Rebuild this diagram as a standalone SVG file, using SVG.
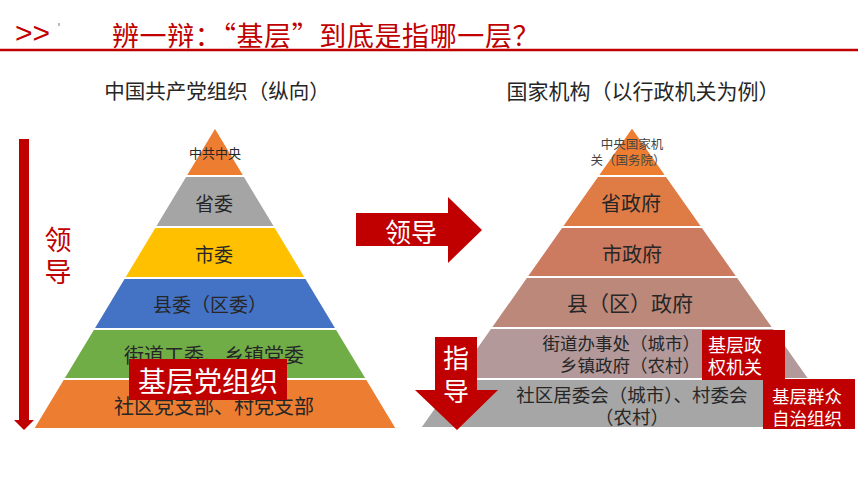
<svg xmlns="http://www.w3.org/2000/svg" width="860" height="484" viewBox="0 0 860 484">
<style>
text{font-family:"Noto Sans CJK SC","Noto Sans",sans-serif;dominant-baseline:central;text-anchor:middle}
.t{fill:#262626}
.w{fill:#ffffff}
.r{fill:#C00000}
.lay{stroke:#ffffff;stroke-width:2}
.box{fill:#C00000}
</style>
<rect width="860" height="484" fill="#ffffff"/>
<g id="header">
<text x="15" y="32" class="r" style="text-anchor:start;font-size:30px;font-family:'Liberation Sans',sans-serif">&gt;&gt;</text>
<rect x="58.5" y="23" width="1" height="3" fill="#777"/>
<text x="112" y="34" class="r" style="text-anchor:start;font-size:27px;letter-spacing:0.6px">辨一辩：“基层”到底是指哪一层？</text>
<line x1="0" y1="50" x2="858" y2="50" stroke="#C00000" stroke-width="2.5"/>
</g>
<g id="subtitles">
<text x="217" y="90" class="t" style="font-size:20.5px">中国共产党组织（纵向）</text>
<text x="643" y="90" class="t" style="font-size:21px">国家机构（以行政机关为例）</text>
</g>
<g id="left-pyramid">
<g id="l1"><polygon class="lay" fill="#ED7D31" points="215,127 244.5,176 185.5,176"/><text x="215" y="152" class="t" style="font-size:13px">中共中央</text></g>
<g id="l2"><polygon class="lay" fill="#A5A5A5" points="185.5,176 244.5,176 275.3,227 154.7,227"/><text x="214" y="202" class="t" style="font-size:19px">省委</text></g>
<g id="l3"><polygon class="lay" fill="#FFC000" points="154.7,227 275.3,227 306,278 124,278"/><text x="214" y="253" class="t" style="font-size:19px">市委</text></g>
<g id="l4"><polygon class="lay" fill="#4472C4" points="124,278 306,278 336.7,329 93.3,329"/><text x="210" y="303" class="t" style="font-size:19px">县委（区委）</text></g>
<g id="l5"><polygon class="lay" fill="#70AD47" points="93.3,329 336.7,329 366.9,379 63.1,379"/><text x="214" y="354" class="t" style="font-size:20px">街道工委、乡镇党委</text></g>
<g id="l6"><polygon class="lay" fill="#ED7D31" points="63.1,379 366.9,379 397,429 33,429"/><text x="214" y="405" class="t" style="font-size:20px">社区党支部、村党支部</text></g>
<g id="l-label"><rect class="box" x="129" y="359" width="158" height="41"/><text x="208" y="380" class="w" style="font-size:28px">基层党组织</text></g>
</g>
<g id="right-pyramid">
<g id="r1"><polygon class="lay" fill="#ED7D31" points="632,127 666.5,176 597.5,176"/><text class="t" style="font-size:12.5px;fill:#444"><tspan x="632" y="143">中央国家机</tspan><tspan x="628" y="159">关（国务院）</tspan></text></g>
<g id="r2"><polygon class="lay" fill="#DF7B45" points="597.5,176 666.5,176 702.4,227 561.6,227"/><text x="631" y="202" class="t" style="font-size:20px">省政府</text></g>
<g id="r3"><polygon class="lay" fill="#CC7B60" points="561.6,227 702.4,227 737.6,277 526.4,277"/><text x="632" y="253" class="t" style="font-size:20px">市政府</text></g>
<g id="r4"><polygon class="lay" fill="#BC8879" points="526.4,277 737.6,277 773.5,328 490.5,328"/><text x="630" y="302" class="t" style="font-size:21px">县（区）政府</text></g>
<g id="r5"><polygon class="lay" fill="#B3999A" points="490.5,328 773.5,328 809.4,379 454.6,379"/><text class="t" style="font-size:17.5px;text-anchor:end"><tspan x="700" y="342">街道办事处（城市）</tspan><tspan x="700" y="364">乡镇政府（农村）</tspan></text></g>
<g id="r6"><polygon class="lay" fill="#A6A6A6" points="454.6,379 809.4,379 844,428 420,428"/><text class="t" style="font-size:18.5px"><tspan x="632" y="394">社区居委会（城市）、村委会</tspan><tspan x="632" y="416">（农村）</tspan></text></g>
<g id="r-label1"><rect class="box" x="702" y="330" width="83" height="50"/><text class="w" style="font-size:18px;text-anchor:start"><tspan x="708" y="344">基层政</tspan><tspan x="708" y="366">权机关</tspan></text></g>
<g id="r-label2"><rect class="box" x="763" y="379" width="92" height="50"/><text class="w" style="font-size:17.5px;text-anchor:start"><tspan x="772" y="395">基层群众</tspan><tspan x="772" y="417">自治组织</tspan></text></g>
</g>
<g id="connectors">
<g id="left-arrow"><polygon fill="#C00000" points="19,139 29,139 29,420 34,420 24,430 14,420 19,420"/><text class="r" style="font-size:27px"><tspan x="58" y="238">领</tspan><tspan x="58" y="270">导</tspan></text></g>
<g id="mid-arrow"><polygon fill="#C00000" points="356,213 448,213 448,197 482,230 448,263 448,246 356,246"/><text x="411" y="230" class="w" style="font-size:26px">领导</text></g>
<g id="down-arrow"><polygon fill="#C00000" points="435,337 477,337 477,390 498,390 457,430 415,390 435,390"/><text class="w" style="font-size:26px"><tspan x="456" y="356">指</tspan><tspan x="456" y="389">导</tspan></text></g>
</g>
</svg>
